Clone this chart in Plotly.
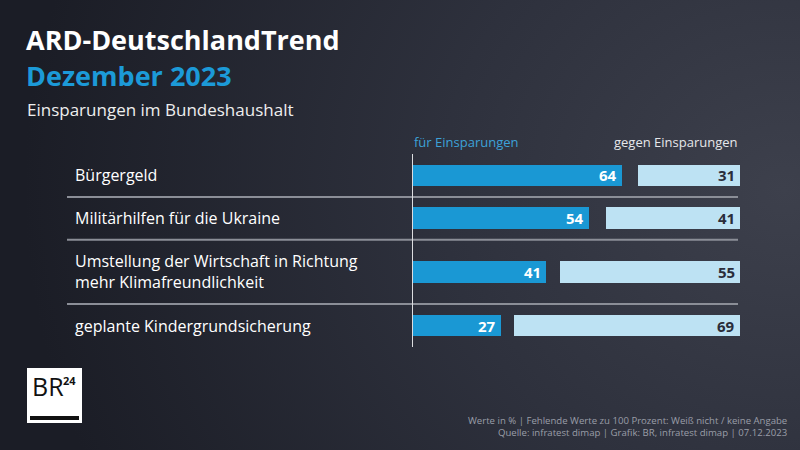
import base64
import plotly.graph_objects as go

# ---- data ----
categories = [
    "Bürgergeld",
    "Militärhilfen für die Ukraine",
    "Umstellung der Wirtschaft in Richtung<br>mehr Klimafreundlichkeit",
    "geplante Kindergrundsicherung",
]
for_savings = [64, 54, 41, 27]
against_savings = [31, 41, 55, 69]
series_names = ["für Einsparungen", "gegen Einsparungen"]
title = "ARD-DeutschlandTrend"
subtitle_month = "Dezember 2023"
subtitle = "Einsparungen im Bundeshaushalt"
footer_lines = [
    "Werte in % | Fehlende Werte zu 100 Prozent: Weiß nicht / keine Angabe",
    "Quelle: infratest dimap | Grafik: BR, infratest dimap | 07.12.2023",
]

# ---- layout derived from label line counts ----
line_counts = [c.count("<br>") + 1 for c in categories]
row_heights = [1 + 0.5 * (n - 1) for n in line_counts]
bounds = [0]
for h in row_heights:
    bounds.append(bounds[-1] + h)
centers = [(bounds[i] + bounds[i + 1]) / 2 for i in range(len(categories))]
total = bounds[-1]

W, H = 800, 450
BLUE = "#1a98d4"
LIGHT = "#bde2f3"
FONT = "Open Sans"

def px_x(p):
    return p / W

def px_y(p):
    return 1 - p / H

# background gradient as svg
svg = f"""<svg xmlns='http://www.w3.org/2000/svg' width='{W}' height='{H}'>
<defs><radialGradient id='g' cx='0.98' cy='0.42' r='0.95' gradientTransform='translate(0.98 0.42) scale(1 1.6) translate(-0.98 -0.42)'>
<stop offset='0' stop-color='#3d404c'/>
<stop offset='0.45' stop-color='#2e313d'/>
<stop offset='1' stop-color='#1b1d26'/>
</radialGradient></defs>
<rect width='{W}' height='{H}' fill='url(#g)'/></svg>"""
bg_src = "data:image/svg+xml;base64," + base64.b64encode(svg.encode()).decode()

fig = go.Figure()
fig.add_trace(go.Bar(
    y=centers, x=for_savings, orientation="h", name=series_names[0],
    marker=dict(color=BLUE, line=dict(width=0)), width=0.51,
    hoverinfo="skip",
))
fig.add_trace(go.Bar(
    y=centers, x=against_savings, base=[100 - v for v in against_savings],
    orientation="h", name=series_names[1],
    marker=dict(color=LIGHT, line=dict(width=0)), width=0.51,
    hoverinfo="skip",
))

annotations = []
# value labels at bar ends
for v, yc in zip(for_savings, centers):
    annotations.append(dict(x=v, xref="x", y=yc, yref="y", text=str(v), showarrow=False,
                            xanchor="right", yanchor="middle", xshift=-3,
                            font=dict(color="white", size=15, family=FONT, weight="bold")))
for v, yc in zip(against_savings, centers):
    annotations.append(dict(x=100, xref="x", y=yc, yref="y", text=str(v), showarrow=False,
                            xanchor="right", yanchor="middle", xshift=-3,
                            font=dict(color="#2a2d3a", size=15, family=FONT, weight="bold")))
# row labels
for c, yc in zip(categories, centers):
    annotations.append(dict(
        x=px_x(73), xref="paper", y=yc, yref="y", text=c, showarrow=False,
        xanchor="left", yanchor="middle", align="left",
        font=dict(color="white", size=16, family=FONT),
    ))
# headers
annotations.append(dict(x=0, xref="x", y=px_y(142), yref="paper", text=series_names[0],
                        showarrow=False, xanchor="left", yanchor="middle",
                        font=dict(color="#3da2d8", size=13, family=FONT)))
annotations.append(dict(x=100, xref="x", y=px_y(142), yref="paper", text=series_names[1],
                        showarrow=False, xanchor="right", yanchor="middle",
                        font=dict(color="#e6e7ea", size=13, family=FONT)))
# titles
annotations.append(dict(x=px_x(24), xref="paper", y=px_y(39), yref="paper", text=title,
                        showarrow=False, xanchor="left", yanchor="middle",
                        font=dict(color="white", size=27, family=FONT, weight="bold")))
annotations.append(dict(x=px_x(24), xref="paper", y=px_y(76), yref="paper", text=subtitle_month,
                        showarrow=False, xanchor="left", yanchor="middle",
                        font=dict(color="#1c9ad8", size=27, family=FONT, weight="bold")))
annotations.append(dict(x=px_x(25), xref="paper", y=px_y(109), yref="paper", text=subtitle,
                        showarrow=False, xanchor="left", yanchor="middle",
                        font=dict(color="#eeeeee", size=17, family=FONT)))
# footer
annotations.append(dict(x=px_x(789), xref="paper", y=px_y(426), yref="paper",
                        text="<br>".join(footer_lines), showarrow=False,
                        xanchor="right", yanchor="middle", align="right",
                        font=dict(color="#9a9ea8", size=9.6, family=FONT)))
# logo text
annotations.append(dict(x=px_x(30), xref="paper", y=px_y(386), yref="paper", text="BR",
                        showarrow=False, xanchor="left", yanchor="middle",
                        font=dict(color="#111111", size=25, family=FONT)))
annotations.append(dict(x=px_x(61), xref="paper", y=px_y(380), yref="paper", text="24",
                        showarrow=False, xanchor="left", yanchor="middle",
                        font=dict(color="#111111", size=11, family=FONT, weight="bold")))

shapes = []
# separators
for b in bounds[1:-1]:
    shapes.append(dict(type="line", xref="paper", yref="y", x0=px_x(67), x1=px_x(738),
                       y0=b, y1=b, line=dict(color="#8b8e97", width=2), layer="below"))
# vertical axis line
shapes.append(dict(type="line", xref="x", yref="y domain", x0=0, x1=0, y0=0, y1=1,
                   line=dict(color="#dcdde0", width=2), layer="above"))
# logo
shapes.append(dict(type="rect", xref="paper", yref="paper", x0=px_x(27), x1=px_x(82),
                   y0=px_y(423), y1=px_y(368), fillcolor="white", line=dict(width=0)))
shapes.append(dict(type="rect", xref="paper", yref="paper", x0=px_x(30), x1=px_x(79),
                   y0=px_y(420), y1=px_y(416), fillcolor="#111111", line=dict(width=0)))

fig.update_layout(
    width=W, height=H, margin=dict(l=0, r=0, t=0, b=0),
    paper_bgcolor="#262934", plot_bgcolor="rgba(0,0,0,0)",
    showlegend=False, barmode="overlay", bargap=0,
    xaxis=dict(range=[0, 100], domain=[px_x(412), px_x(740)], visible=False, fixedrange=True),
    yaxis=dict(range=[total, 0], domain=[px_y(347), px_y(154)], visible=False, fixedrange=True),
    annotations=annotations, shapes=shapes,
    images=[dict(source=bg_src, xref="paper", yref="paper", x=0, y=1, sizex=1, sizey=1,
                 xanchor="left", yanchor="top", sizing="stretch", layer="below")],
)

fig.write_html(
    "out.html",
    config={"displayModeBar": False},
    post_script="document.body.style.margin='0';document.body.style.overflow='hidden';",
)
